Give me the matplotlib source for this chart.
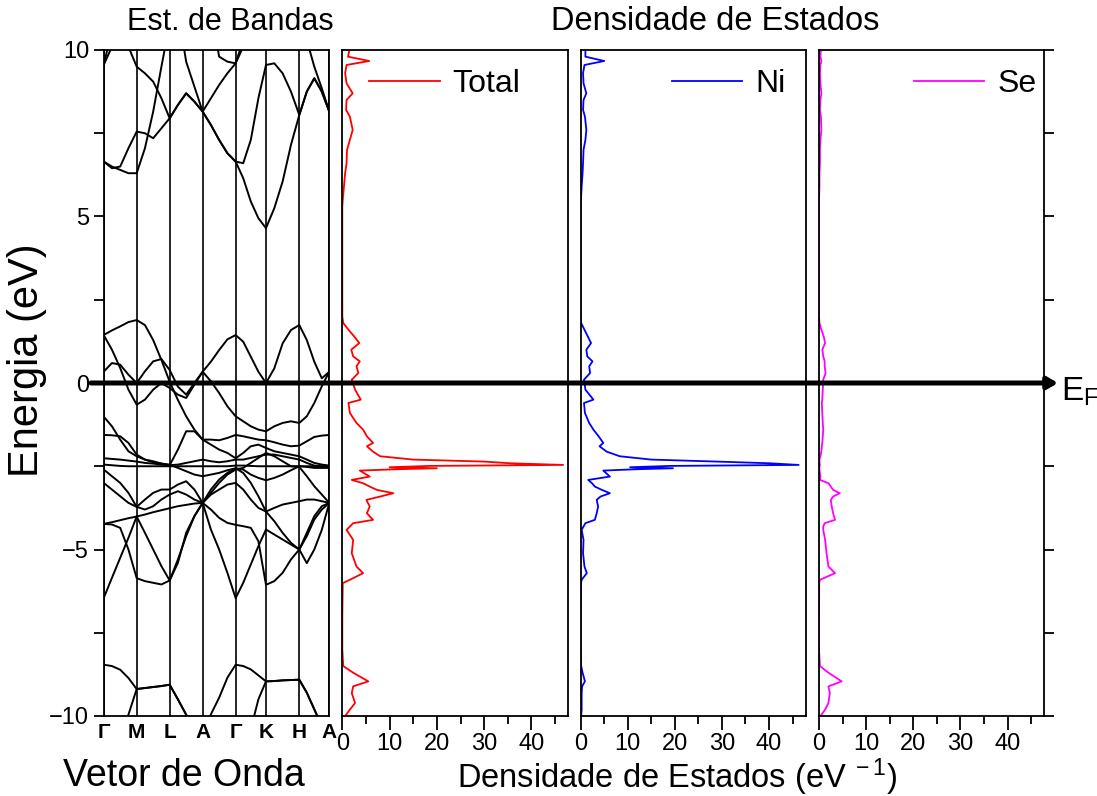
import numpy as np
import matplotlib.pyplot as plt
from matplotlib.ticker import MultipleLocator
from matplotlib.patches import FancyArrowPatch
from matplotlib import transforms

plt.rcParams['font.family'] = ['Liberation Sans', 'DejaVu Sans']
plt.rcParams['mathtext.fontset'] = 'custom'
plt.rcParams['mathtext.rm'] = 'Liberation Sans'
plt.rcParams['mathtext.it'] = 'Liberation Sans:italic'

# high-symmetry path
kpoint_labels = ["Γ", "M", "L", "A", "Γ", "K", "H", "A"]
kpoint_pos = [0, 1, 2, 3, 4, 4.92, 5.93, 6.84]

# band energies (eV) read at the quarter points of every segment
bands = [
    [9.55, 10.6, 11.5, 12, 12, 12, 12, 12, 12, 12, 12, 12, 12, 11.2, 9.8, 9.65, 9.6, 10.3, 11.2, 12, 12, 12, 12, 12, 12, 12, 12, 12, 12],
    [9.55, 10.1, 10.8, 11.5, 12, 12, 12, 12, 12, 12, 12, 12, 12, 12, 12, 12, 12, 12, 12, 12, 12, 12, 12, 12, 12, 12, 12, 12, 12],
    [12, 12, 11, 10.1, 9.5, 9.3, 9.05, 8.55, 7.95, 8.35, 8.7, 8.45, 8.15, 8.55, 8.95, 9.3, 9.6, 10.1, 10.8, 11.5, 12, 12, 12, 12, 12, 12, 12, 12, 12],
    [6.65, 6.45, 6.5, 7.05, 7.55, 7.5, 7.35, 7.65, 7.95, 8.35, 8.7, 8.45, 8.15, 7.75, 7.3, 6.9, 6.65, 6.15, 5.45, 4.95, 4.65, 5.25, 6.05, 7.15, 8.05, 8.75, 9.15, 8.75, 8.15],
    [6.65, 6.5, 6.4, 6.3, 6.3, 7.05, 8.15, 9.5, 10.8, 11.8, 12, 12, 12, 12, 12, 12, 12, 12, 12, 12, 12, 12, 12, 12, 11.5, 10.3, 9.5, 8.85, 8.15],
    [12, 12, 12, 12, 12, 12, 12, 12, 12, 11.2, 9.65, 8.9, 8.15, 7.75, 7.3, 6.9, 6.65, 6.6, 7.3, 8.55, 9.55, 9.6, 9.3, 8.75, 8.05, 8.75, 9.15, 8.75, 8.15],
    [1.44, 1.58, 1.7, 1.83, 1.89, 1.74, 1.29, 0.69, 0.04, -0.51, -1.0, -1.4, -1.7, -1.7, -1.72, -1.65, -1.56, -1.6, -1.65, -1.7, -1.72, -1.78, -1.85, -1.9, -1.88, -1.75, -1.62, -1.58, -1.56],
    [1.44, 1.0, 0.45, -0.2, -0.65, -0.5, -0.2, 0.0, -0.15, -0.35, -0.45, -0.05, 0.34, 0.64, 0.99, 1.31, 1.44, 1.24, 0.79, 0.34, 0.0, 0.44, 1.19, 1.59, 1.74, 1.29, 0.64, 0.14, 0.34],
    [0.34, 0.6, 0.55, 0.25, 0.0, 0.35, 0.65, 0.72, 0.39, -0.11, -0.35, 0.0, 0.34, 0.05, -0.3, -0.7, -1.0, -1.15, -1.3, -1.4, -1.45, -1.3, -1.2, -1.15, -1.2, -1.0, -0.6, -0.1, 0.34],
    [-2.45, -2.47, -2.49, -2.5, -2.5, -2.5, -2.5, -2.5, -2.5, -2.5, -2.5, -2.5, -2.5, -2.5, -2.5, -2.5, -2.48, -2.48, -2.49, -2.5, -2.5, -2.5, -2.5, -2.5, -2.5, -2.5, -2.5, -2.5, -2.5],
    [-2.26, -2.28, -2.3, -2.33, -2.36, -2.4, -2.42, -2.45, -2.47, -2.45, -2.4, -2.35, -2.3, -2.35, -2.38, -2.35, -2.3, -2.3, -2.25, -2.2, -2.15, -2.15, -2.2, -2.25, -2.3, -2.4, -2.48, -2.5, -2.5],
    [-1.56, -1.57, -1.6, -1.8, -2.15, -2.3, -2.38, -2.42, -2.47, -2.0, -1.45, -1.45, -1.7, -1.85, -2.0, -2.1, -2.26, -2.1, -1.9, -1.85, -1.95, -2.05, -2.1, -2.15, -2.2, -2.3, -2.4, -2.45, -2.48],
    [-1.01, -1.3, -1.7, -2.05, -2.2, -2.3, -2.35, -2.42, -2.45, -2.55, -2.65, -2.75, -2.8, -2.75, -2.7, -2.62, -2.56, -2.6, -2.75, -2.85, -2.92, -2.85, -2.75, -2.62, -2.5, -2.52, -2.55, -2.55, -2.55],
    [-2.6, -2.8, -3.0, -3.3, -3.72, -3.8, -3.7, -3.5, -3.35, -3.25, -3.35, -3.5, -3.6, -3.2, -2.9, -2.7, -2.56, -2.7, -3.0, -3.4, -3.86, -4.15, -4.5, -4.8, -5.0, -4.5, -4.0, -3.7, -3.6],
    [-3.0, -3.2, -3.4, -3.6, -3.72, -3.5, -3.3, -3.2, -3.2, -3.05, -2.95, -3.2, -3.6, -3.35, -3.2, -3.05, -3.0, -3.2, -3.5, -3.75, -3.86, -3.75, -3.65, -3.6, -3.55, -3.5, -3.5, -3.55, -3.6],
    [-4.23, -4.18, -4.12, -4.06, -4.01, -3.95, -3.88, -3.82, -3.76, -3.7, -3.66, -3.62, -3.6, -3.3, -3.0, -2.75, -2.6, -2.55, -2.4, -2.25, -2.1, -2.2, -2.35, -2.5, -2.52, -2.8, -3.1, -3.35, -3.6],
    [-6.46, -5.85, -5.25, -4.65, -4.01, -4.5, -5.0, -5.5, -5.93, -5.4, -4.5, -4.0, -3.6, -4.4, -5.0, -5.7, -6.46, -6.0, -5.45, -4.9, -4.4, -4.55, -4.7, -4.85, -5.0, -4.6, -4.1, -3.8, -3.6],
    [-4.23, -4.25, -4.35, -5.0, -5.86, -5.95, -6.0, -6.05, -5.93, -5.3, -4.6, -4.0, -3.6, -3.8, -4.05, -4.2, -4.26, -4.3, -4.35, -4.75, -6.06, -5.95, -5.7, -5.3, -5.0, -5.41, -5.0, -4.41, -3.6],
    [-8.46, -8.5, -8.61, -8.86, -9.19, -9.16, -9.13, -9.1, -9.06, -9.5, -9.96, -10.5, -10.7, -9.95, -9.45, -8.85, -8.46, -8.5, -8.6, -8.78, -8.96, -8.95, -8.93, -8.92, -8.91, -9.3, -9.8, -10.3, -10.6],
    [-11.0, -10.8, -10.4, -9.96, -9.19, -9.16, -9.13, -9.1, -9.06, -9.5, -9.96, -10.5, -10.7, -10.9, -11.0, -11.0, -11.0, -10.9, -10.4, -9.5, -8.96, -8.95, -8.93, -8.92, -8.91, -9.3, -9.8, -10.3, -10.6],
]

# density of states (states/eV)
energy = [10.0, 9.8, 9.67, 9.55, 9.3, 9.0, 8.7, 8.5, 8.2, 8.0,
          7.6, 7.3, 7.0, 6.6, 6.3, 5.9, 5.5, 5.3, 4.0, 3.0,
          2.0, 1.8, 1.6, 1.4, 1.2, 1.0, 0.8, 0.65, 0.5, 0.3,
          0.1, -0.2, -0.5, -0.6, -0.9, -1.2, -1.4, -1.6, -1.8, -1.9,
          -2.06, -2.2, -2.3, -2.36, -2.41, -2.46, -2.49, -2.53, -2.56, -2.59,
          -2.63, -2.81, -2.91, -3.01, -3.11, -3.21, -3.31, -3.41, -3.51, -3.71,
          -3.91, -4.11, -4.21, -4.31, -4.41, -4.71, -5.11, -5.51, -5.71, -5.91,
          -6.01, -7.0, -8.0, -8.5, -8.7, -8.96, -9.11, -9.31, -9.61, -9.81, -10.0]
dos_total = [1.5, 1.2, 5.7, 0.9, 0.6, 0.9, 2.2, 0.9, 0.8, 1.6,
             2.2, 1.6, 1.0, 0.9, 0.6, 0.35, 0.1, 0.0, 0.0, 0.0,
             0.0, 0.2, 1.3, 2.5, 3.6, 1.9, 2.3, 3.7, 3.0, 3.4,
             2.0, 2.7, 3.9, 1.3, 1.6, 3.0, 4.4, 5.2, 6.5, 5.2,
             6.5, 8.0, 15.0, 30.0, 35.5, 46.7, 18.5, 10.0, 20.0, 11.5,
             3.7, 5.8, 2.0, 4.4, 5.8, 7.3, 10.8, 8.0, 5.1, 5.8,
             5.2, 6.5, 2.3, 1.6, 0.9, 2.3, 2.0, 3.0, 4.4, 1.6,
             0.1, 0.0, 0.0, 0.2, 2.3, 5.5, 2.3, 2.0, 2.7, 1.6, 0.6]
dos_ni = [1.0, 1.0, 5.0, 0.8, 0.5, 0.6, 1.2, 0.6, 0.5, 0.9,
          1.2, 1.0, 0.6, 0.5, 0.4, 0.2, 0.05, 0.0, 0.0, 0.0,
          0.0, 0.1, 0.8, 1.5, 2.2, 1.2, 1.4, 2.5, 1.8, 2.0,
          0.7, 1.0, 2.7, 0.7, 0.9, 1.8, 2.7, 3.8, 4.8, 4.0,
          5.5, 8.3, 15.0, 29.0, 40.0, 46.3, 19.0, 10.5, 19.6, 11.8,
          4.8, 6.2, 1.6, 2.4, 3.0, 4.5, 6.2, 4.2, 3.4, 3.7,
          3.4, 3.0, 1.0, 0.6, 0.2, 0.6, 0.5, 0.8, 1.3, 0.2,
          0.05, 0.0, 0.0, 0.1, 0.4, 0.9, 0.3, 0.2, 0.2, 0.2, 0.1]
dos_se = [0.4, 0.3, 0.5, 0.3, 0.2, 0.3, 0.5, 0.3, 0.2, 0.4,
          0.5, 0.3, 0.2, 0.2, 0.1, 0.1, 0.0, 0.0, 0.0, 0.0,
          0.0, 0.1, 0.5, 1.0, 1.3, 0.7, 0.9, 1.2, 1.2, 1.4,
          0.9, 0.8, 0.7, 0.6, 0.7, 0.8, 0.9, 0.8, 0.7, 0.6,
          0.5, 0.3, 0.1, 0.1, 0.1, 0.2, 0.1, 0.1, 0.1, 0.1,
          0.1, 0.3, 0.2, 2.0, 2.5, 3.0, 4.4, 3.0, 2.5, 2.7,
          3.0, 3.4, 1.2, 0.9, 0.9, 1.3, 1.6, 2.0, 3.4, 0.2,
          0.05, 0.0, 0.0, 0.2, 2.0, 4.8, 2.0, 2.3, 2.0, 1.3, 0.3]

dos_series = [("Total", dos_total, "#ff0000"),
              ("Ni", dos_ni, "#0000ff"),
              ("Se", dos_se, "#ff00ff")]

# quarter-point grid along the path
k_grid = [kpoint_pos[0]]
for a, b in zip(kpoint_pos[:-1], kpoint_pos[1:]):
    k_grid += list(np.linspace(a, b, 5)[1:])

fig = plt.figure(figsize=(10.97, 7.96), dpi=100)
W, H = 1097.0, 796.0
bottom, height = 1 - 716 / H, 666 / H

ax_b = fig.add_axes([103.7 / W, bottom, 225.6 / W, height])
for band in bands:
    ax_b.plot(k_grid, band, color="k", lw=1.4)
for k in kpoint_pos:
    ax_b.axvline(k, color="k", lw=1.2)
ax_b.set_xlim(kpoint_pos[0], kpoint_pos[-1])
ax_b.set_ylim(-10, 10)
ax_b.set_xticks(kpoint_pos)
ax_b.set_xticklabels(kpoint_labels, fontweight="bold", fontsize=15)
ax_b.tick_params(axis="x", length=0, pad=5)
ax_b.set_yticks([-10, -5, 0, 5, 10])
ax_b.yaxis.set_minor_locator(MultipleLocator(2.5))
ax_b.tick_params(axis="y", which="both", direction="out", length=7, width=1.3, labelsize=17)
for s in ax_b.spines.values():
    s.set_linewidth(1.3)

lefts = [342.3, 580.7, 819.0]
widths = [226.0, 225.0, 225.3]
legend_anchor = [("upper left", (0.035, 1.0)), ("upper right", (0.995, 1.0)), ("upper right", (1.05, 1.0))]
for i, (name, vals, color) in enumerate(dos_series):
    ax = fig.add_axes([lefts[i] / W, bottom, widths[i] / W, height])
    ax.plot(vals, energy, color=color, lw=1.3, label=name)
    ax.set_xlim(0, 47.8)
    ax.set_ylim(-10, 10)
    ax.set_xticks([0, 10, 20, 30, 40])
    ax.xaxis.set_minor_locator(MultipleLocator(5))
    ax.tick_params(axis="x", which="major", direction="out", length=10, width=1.3,
                   labelsize=17, pad=2.5)
    ax.tick_params(axis="x", which="minor", direction="out", length=6, width=1.3)
    if i == 2:
        ax.yaxis.tick_right()
        ax.yaxis.set_major_locator(MultipleLocator(2.5))
        ax.tick_params(axis="y", direction="out", length=7, width=1.3, labelright=False)
    else:
        ax.set_yticks([])
    loc, anchor = legend_anchor[i]
    ax.legend(loc=loc, bbox_to_anchor=anchor, frameon=False, fontsize=23,
              handlelength=2.2, handletextpad=0.4, borderaxespad=0.2)
    for s in ax.spines.values():
        s.set_linewidth(1.3)

# Fermi level arrow, drawn above all panels
arrow_tr = transforms.blended_transform_factory(fig.transFigure, ax_b.transData)
fermi = FancyArrowPatch((91 / W, 0), (1058 / W, 0), transform=arrow_tr,
                        arrowstyle="-|>,head_length=6,head_width=3.5", lw=3.6,
                        color="k", shrinkA=0, shrinkB=0, zorder=5)
fig.add_artist(fermi)
fig.text(1061 / W, 1 - 392 / H, r"$\mathrm{E_F}$", fontsize=24, va="center", ha="left")

fig.text(230 / W, 1 - 22 / H, "Est. de Bandas", fontsize=22, ha="center", va="center")
fig.text(715 / W, 1 - 22 / H, "Densidade de Estados", fontsize=23.5, ha="center", va="center")
fig.text(184 / W, 1 - 786 / H, "Vetor de Onda", fontsize=27, ha="center", va="baseline")
fig.text(677 / W, 1 - 788 / H, r"Densidade de Estados (eV$^{\ -1}$)", fontsize=23.5, ha="center", va="baseline")
fig.text(27 / W, 1 - 360 / H, "Energia (eV)", fontsize=30, rotation=90, ha="center", va="center")

fig.savefig("out.png", dpi=100)
